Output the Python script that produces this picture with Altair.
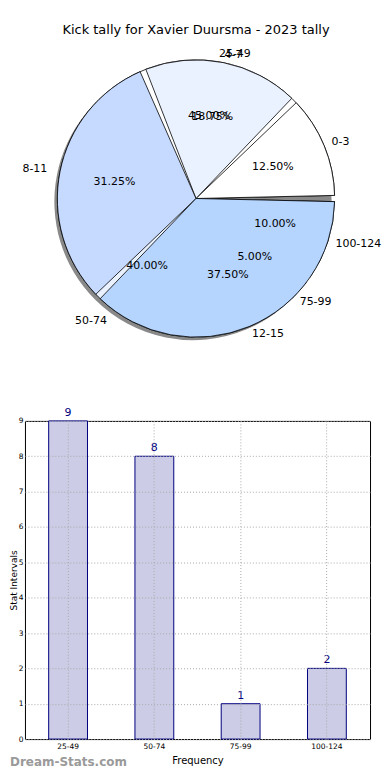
import math
import altair as alt
import pandas as pd

# ---------------- data ----------------
kick_cats = ["0-3", "4-7", "8-11", "12-15"]
kick_counts = [2, 3, 5, 6]
stat_cats = ["25-49", "50-74", "75-99", "100-124"]
stat_counts = [9, 8, 1, 2]
pie_colors = ["#ffffff", "#ebf2ff", "#c6d9ff", "#b5d5ff"]
title_text = "Kick tally for Xavier Duursma - 2023 tally"
watermark = ["Dream-Stats.com"]
y_ticks = [0, 1, 2, 3, 4, 5, 6, 7, 8, 9]

FONT = "DejaVu Sans"
PI = math.pi
R = 139
R_LABEL_R = 147
R_LABEL_L = 152
W = 346
W_PIE = 343

# matplotlib style: start at 3 o'clock, go counter-clockwise
theta_scale = alt.Scale(domain=[0, 1], range=[2.5 * PI, 0.5 * PI])


def prep(cats, counts):
    df = pd.DataFrame({"cat": cats, "n": counts})
    return (
        alt.Chart(df)
        .transform_window(idx="row_number()")
        .transform_joinaggregate(total="sum(n)")
        .transform_window(cum="sum(n)", sort=[alt.SortField("idx")])
        .transform_calculate(
            start="(datum.cum - datum.n) / datum.total",
            end="datum.cum / datum.total",
            mid="(datum.cum - datum.n / 2) / datum.total",
            pct="format(datum.n / datum.total, '.2%')",
            side="cos(2 * PI * ((datum.cum - datum.n / 2) / datum.total)) >= 0 ? 'R' : 'L'",
        )
    )


def arcs(cats, counts, pad):
    return prep(cats, counts).mark_arc(
        radius=R, padAngle=pad, stroke="black", strokeWidth=0.8
    ).encode(
        theta=alt.Theta("start:Q", scale=theta_scale, stack=False),
        theta2="end:Q",
        color=alt.Color("cat:N", scale=alt.Scale(domain=cats, range=pie_colors), legend=None),
    )


def shadow(cats, counts):
    return prep(cats, counts).mark_arc(
        radius=R, fill="#3a3a3a", opacity=0.6, xOffset=-3, yOffset=3
    ).encode(
        theta=alt.Theta("start:Q", scale=theta_scale, stack=False),
        theta2="end:Q",
    )


def pct_text(cats, counts):
    return prep(cats, counts).mark_text(
        radius=0.6 * R, fontSize=11, font=FONT, color="black"
    ).encode(
        theta=alt.Theta("mid:Q", scale=theta_scale, stack=False),
        text="pct:N",
    )


def cat_text(cats, counts, side, align, rad):
    return prep(cats, counts).transform_filter(
        alt.datum.side == side
    ).mark_text(
        radius=rad, fontSize=11, font=FONT, color="black", align=align, baseline="middle"
    ).encode(
        theta=alt.Theta("mid:Q", scale=theta_scale, stack=False),
        text="cat:N",
    )


pie = alt.layer(
    shadow(kick_cats, kick_counts),
    arcs(stat_cats, stat_counts, 0.045),
    arcs(kick_cats, kick_counts, 0.045),
    pct_text(stat_cats, stat_counts),
    pct_text(kick_cats, kick_counts),
    cat_text(stat_cats, stat_counts, "R", "left", R_LABEL_R),
    cat_text(stat_cats, stat_counts, "L", "right", R_LABEL_L),
    cat_text(kick_cats, kick_counts, "R", "left", R_LABEL_R),
    cat_text(kick_cats, kick_counts, "L", "right", R_LABEL_L),
).resolve_scale(color="independent").properties(
    width=W_PIE,
    height=306,
    title=alt.Title(title_text, fontSize=13, fontWeight="normal", font=FONT, color="black",
                    anchor="middle", offset=9, frame="group"),
)

# ---------------- bar chart ----------------
bar_df = pd.DataFrame({"cat": stat_cats, "n": stat_counts})
base = alt.Chart(bar_df)

x_enc = alt.X(
    "cat:N",
    sort=stat_cats,
    scale=alt.Scale(paddingInner=0.55, paddingOuter=0.275),
    axis=alt.Axis(
        title="Frequency", labelAngle=0, labelFontSize=7.5, labelFont=FONT, labelColor="black",
        titleFont=FONT, titleFontSize=10, titleFontWeight="normal", titleColor="black",
        titlePadding=6, labelPadding=3, tickSize=0, domain=False,
        grid=True, gridDash=[1, 2], gridColor="#aaaaaa", gridWidth=1,
        bandPosition=0.5, zindex=1,
    ),
)
y_enc = alt.Y(
    "n:Q",
    scale=alt.Scale(domain=[0, 9], nice=False),
    axis=alt.Axis(
        title="Stat Intervals", values=y_ticks, labelOverlap=False, labelFontSize=7.5,
        labelFont=FONT, labelColor="black", titleFont=FONT, titleFontSize=9,
        titleFontWeight="normal", titleColor="black", titlePadding=0, labelPadding=2,
        tickSize=0, domain=False,
        grid=True, gridDash=[1, 2], gridColor="#aaaaaa", gridWidth=1, zindex=1,
    ),
)

bars = base.mark_bar(fill="#ccccE6", stroke="#000080", strokeWidth=1).encode(x=x_enc, y=y_enc)
vals = base.mark_text(dy=-3, baseline="bottom", color="#000080", fontSize=11, font=FONT).encode(
    x=x_enc, y=y_enc, text="n:Q"
)
wm = alt.Chart(pd.DataFrame({"w": watermark})).mark_text(
    align="left", baseline="bottom", color="#9a9a9a", fontSize=12, fontWeight="bold", font=FONT
).encode(text="w:N", x=alt.value(-15), y=alt.value(349))

bar_chart = alt.layer(bars, vals, wm).properties(
    width=W, height=319, view=alt.ViewBackground(stroke="black", strokeWidth=1)
)

chart = alt.vconcat(pie, bar_chart, spacing=70, bounds="flush").properties(
    padding={"top": 15, "left": 0, "right": 0, "bottom": 0}
).configure_view(stroke="transparent").configure(font=FONT)

chart.save("out.html", embed_options={"renderer": "svg", "actions": False})
